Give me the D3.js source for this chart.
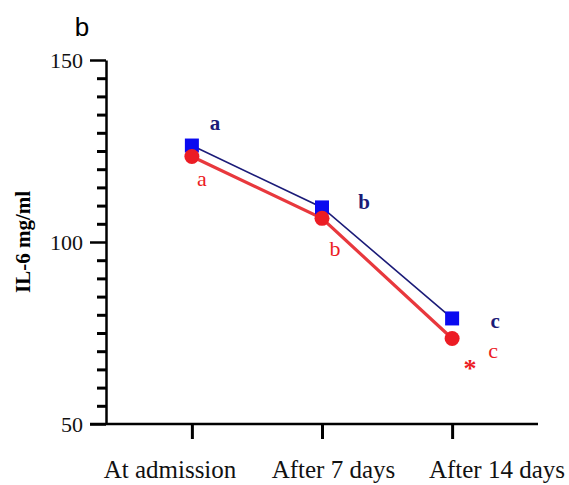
<!DOCTYPE html>
<html>
<head>
<meta charset="utf-8">
<script src="https://cdn.jsdelivr.net/npm/d3@7/dist/d3.min.js"></script>
<style>
  body { margin: 0; background: #fff; }
  svg { display: block; }
</style>
</head>
<body>
<svg id="chart" width="569" height="485"></svg>
<script>
// time points and IL-6 means (mg/ml)
const timePoints = ["At admission", "After 7 days", "After 14 days"];
const blueValues = [126.5, 109.5, 79];
const redValues = [123.5, 106.5, 73.5];
const blueLetters = ["a", "b", "c"];
const redLetters = ["a", "b", "c"];
const yMajorTicks = [50, 100, 150];

const serif = "'Liberation Serif', 'Times New Roman', Times, serif";
const svg = d3.select("#chart");
const axisLeft = 106, axisRight = 538, axisTop = 60, axisBottom = 424;

const x = d3.scalePoint()
  .domain(timePoints)
  .range([axisLeft, axisRight])
  .padding(0.66);

// category labels sit on their own, wider spacing in the figure
const xLabel = d3.scalePoint()
  .domain(timePoints)
  .range([170, 497]);

const y = d3.scaleLinear()
  .domain([50, 150])
  .range([axisBottom, axisTop]);

const navy = "#1b1b78";
const blue = "#0a0af0";
const red = "#ec1c24";

// panel letter
svg.append("text")
  .attr("x", 82).attr("y", 36)
  .attr("text-anchor", "middle")
  .style("font-family", "'Liberation Sans', Arial, sans-serif")
  .style("font-size", "26px")
  .text("b");

// y axis: minor ticks every 5, major at 50/100/150
const minorTicks = d3.range(55, 150, 5).filter(v => v % 50 !== 0);
svg.append("g")
  .attr("transform", `translate(${axisLeft},0)`)
  .call(d3.axisLeft(y).tickValues(minorTicks).tickSize(9).tickFormat(""))
  .call(g => g.select(".domain").remove())
  .call(g => g.selectAll("line").attr("stroke-width", 3));

const yAxis = svg.append("g")
  .attr("transform", `translate(${axisLeft},0)`)
  .call(d3.axisLeft(y).tickValues(yMajorTicks).tickSize(16).tickSizeOuter(0).tickPadding(7));
yAxis.select(".domain").attr("stroke-width", 2.5);
yAxis.selectAll("line").attr("stroke-width", 2.5);
yAxis.selectAll("text")
  .attr("fill", "#111")
  .style("font-family", serif)
  .style("font-size", "22px");

// x axis
const xAxis = svg.append("g")
  .attr("transform", `translate(0,${axisBottom})`)
  .call(d3.axisBottom(x).tickSize(15).tickSizeOuter(0).tickFormat(""));
xAxis.select(".domain").attr("stroke-width", 2.5)
  .attr("d", `M${axisLeft - 16},0H${axisRight}`);
xAxis.selectAll("line").attr("stroke-width", 3);

svg.append("g")
  .selectAll("text")
  .data(timePoints)
  .join("text")
  .attr("x", d => xLabel(d))
  .attr("y", 478)
  .attr("text-anchor", "middle")
  .style("font-family", serif)
  .style("font-size", "25px")
  .attr("fill", "#111")
  .text(d => d);

// y title
svg.append("text")
  .attr("transform", `translate(30,${(axisTop + axisBottom) / 2}) rotate(-90)`)
  .attr("text-anchor", "middle")
  .style("font-family", serif)
  .style("font-size", "21px")
  .style("font-weight", "bold")
  .text("IL-6 mg/ml");

// lines
const line = d3.line().x((d, i) => x(timePoints[i])).y(d => y(d));

svg.append("path")
  .datum(blueValues)
  .attr("fill", "none")
  .attr("stroke", navy)
  .attr("stroke-width", 1.6)
  .attr("d", line);

svg.append("path")
  .datum(redValues)
  .attr("fill", "none")
  .attr("stroke", "#e8383d")
  .attr("stroke-width", 3.2)
  .attr("d", line);

// markers
svg.append("g")
  .selectAll("rect")
  .data(blueValues)
  .join("rect")
  .attr("x", (d, i) => x(timePoints[i]) - 7)
  .attr("y", d => y(d) - 7)
  .attr("width", 14)
  .attr("height", 14)
  .attr("fill", blue);

svg.append("g")
  .selectAll("circle")
  .data(redValues)
  .join("circle")
  .attr("cx", (d, i) => x(timePoints[i]))
  .attr("cy", d => y(d))
  .attr("r", 7.5)
  .attr("fill", red);

// significance letters
const blueOffsets = [[23, -16], [42, 2], [43, 10]];
const redOffsets = [[10, 30], [13, 38], [41, 20]];

svg.append("g")
  .selectAll("text")
  .data(blueLetters)
  .join("text")
  .attr("x", (d, i) => x(timePoints[i]) + blueOffsets[i][0])
  .attr("y", (d, i) => y(blueValues[i]) + blueOffsets[i][1])
  .attr("text-anchor", "middle")
  .style("font-family", serif)
  .style("font-size", "21px")
  .style("font-weight", "bold")
  .attr("fill", navy)
  .text(d => d);

svg.append("g")
  .selectAll("text")
  .data(redLetters)
  .join("text")
  .attr("x", (d, i) => x(timePoints[i]) + redOffsets[i][0])
  .attr("y", (d, i) => y(redValues[i]) + redOffsets[i][1])
  .attr("text-anchor", "middle")
  .style("font-family", serif)
  .style("font-size", "22px")
  .attr("fill", red)
  .text(d => d);

// asterisk beside the last red point
svg.append("text")
  .attr("x", x(timePoints[2]) + 18)
  .attr("y", y(redValues[2]) + 39)
  .attr("text-anchor", "middle")
  .style("font-family", serif)
  .style("font-size", "26px")
  .style("font-weight", "bold")
  .attr("fill", red)
  .text("*");
</script>
</body>
</html>
